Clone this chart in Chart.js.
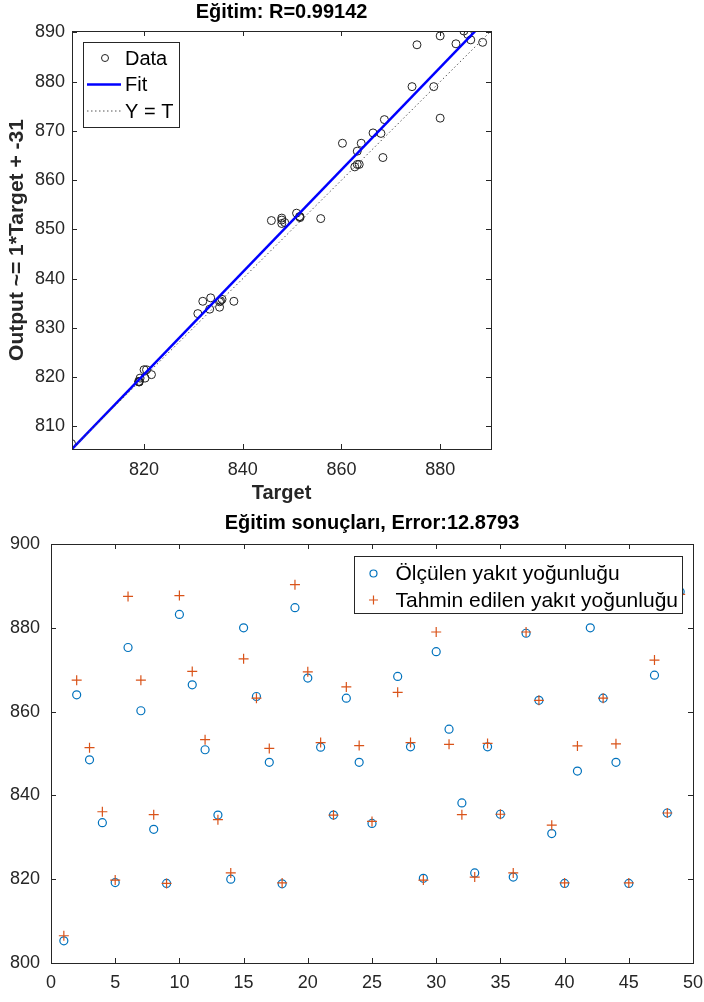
<!DOCTYPE html>
<html>
<head>
<meta charset="utf-8">
<title>Eğitim</title>
<script src="https://cdn.jsdelivr.net/npm/chart.js@4.4.0/dist/chart.umd.min.js"></script>
<style>
    html, body { margin: 0; padding: 0; background: #fff; }
    #page { position: relative; width: 704px; height: 1002px; overflow: hidden; }
    canvas { position: absolute; left: 0; }
    #regChart { top: 0; }
    #resChart { top: 510px; }
</style>
</head>
<body>
<div id="page">
    <canvas id="regChart" width="704" height="510"></canvas>
    <canvas id="resChart" width="704" height="492"></canvas>
</div>
<script>
// sample numbers on the lower plot
const sampleNo = [1, 2, 3, 4, 5, 6, 7, 8, 9, 10, 11, 12, 13, 14, 15, 16, 17, 18, 19, 20,
    21, 22, 23, 24, 25, 26, 27, 28, 29, 30, 31, 32, 33, 34, 35, 36, 37, 38, 39, 40,
    41, 42, 43, 44, 45, 46, 47, 48, 49];

// measured fuel density (target)
const measured = [805.3, 864.0, 848.5, 833.5, 819.2, 875.3, 860.2, 831.9, 819.0, 883.2,
    866.4, 850.9, 835.3, 820.0, 880.0, 863.6, 847.9, 818.9, 884.8, 868.0,
    851.5, 835.3, 863.2, 847.9, 833.3, 885.6, 868.4, 851.6, 820.2, 874.3,
    855.8, 838.2, 821.5, 851.6, 835.5, 820.5, 878.7, 862.7, 830.9, 819.0,
    845.8, 880.0, 863.2, 847.9, 819.0, 886.2, 868.7, 835.8, 888.6];

// predicted fuel density (output)
const predicted = [806.5, 867.5, 851.4, 836.1, 819.8, 887.5, 867.5, 835.4, 819.0, 887.7,
    869.6, 853.3, 834.2, 821.5, 872.6, 863.2, 851.2, 819.1, 890.3, 869.5,
    852.6, 835.3, 865.9, 851.9, 833.8, 889.6, 864.6, 852.6, 819.8, 879.0,
    852.2, 835.4, 820.5, 852.4, 835.5, 821.5, 879.0, 862.7, 832.9, 819.1,
    851.8, 889.3, 863.2, 852.3, 819.1, 888.5, 872.3, 835.8, 888.0];

// regression plot: fit line and Y = T line end points
const fitTarget = [805.4, 890.3];
const fitOutput = [805.4, 893.6];
const regLimits = [805.4, 890.3];

// tick values
const regTicksX = [820, 840, 860, 880];
const regTicksY = [810, 820, 830, 840, 850, 860, 870, 880, 890];
const resTicksX = [0, 5, 10, 15, 20, 25, 30, 35, 40, 45, 50];
const resTicksY = [800, 820, 840, 860, 880, 900];

const FONT = "'Liberation Sans', Arial, Helvetica, sans-serif";
const AXIS_COLOR = '#262626';
Chart.defaults.font.family = FONT;
Chart.defaults.color = AXIS_COLOR;

// box round the plot area with small inward ticks on every side
const axesFrame = {
    id: 'axesFrame',
    afterDatasetsDraw(chart) {
        const { ctx, chartArea: a, scales } = chart;
        const len = 5;
        ctx.save();
        ctx.strokeStyle = AXIS_COLOR;
        ctx.lineWidth = 1;
        ctx.beginPath();
        scales.x.ticks.forEach(t => {
            const px = Math.round(scales.x.getPixelForValue(t.value)) + 0.5;
            ctx.moveTo(px, a.bottom);
            ctx.lineTo(px, a.bottom - len);
            ctx.moveTo(px, a.top);
            ctx.lineTo(px, a.top + len);
        });
        scales.y.ticks.forEach(t => {
            const py = Math.round(scales.y.getPixelForValue(t.value)) + 0.5;
            ctx.moveTo(a.left, py);
            ctx.lineTo(a.left + len, py);
            ctx.moveTo(a.right, py);
            ctx.lineTo(a.right - len, py);
        });
        ctx.stroke();
        ctx.strokeRect(Math.round(a.left) + 0.5, Math.round(a.top) + 0.5,
            Math.round(a.right - a.left), Math.round(a.bottom - a.top));
        ctx.restore();
    }
};

// title centred over the axes, like MATLAB does it
const axesTitle = {
    id: 'axesTitle',
    afterDraw(chart, args, opts) {
        if (!opts.text) return;
        const { ctx, chartArea: a } = chart;
        ctx.save();
        ctx.font = 'bold 20px ' + FONT;
        ctx.fillStyle = '#000';
        ctx.textAlign = 'center';
        ctx.textBaseline = 'middle';
        ctx.fillText(opts.text, (a.left + a.right) / 2, opts.y);
        ctx.restore();
    }
};

// legend drawn inside the plot area, with white background and border
const boxLegend = {
    id: 'boxLegend',
    afterDraw(chart, args, opts) {
        if (!opts.items) return;
        const { ctx, chartArea: a } = chart;
        ctx.save();
        ctx.font = opts.font;
        const textW = Math.max(...opts.items.map(it => ctx.measureText(it.text).width));
        const w = opts.textX + textW + opts.padRight;
        const left = opts.align === 'right' ? a.right - opts.dx - w : a.left + opts.dx;
        const top = a.top + opts.dy;
        ctx.fillStyle = '#fff';
        ctx.fillRect(left, top, w, opts.height);
        ctx.strokeStyle = AXIS_COLOR;
        ctx.lineWidth = 1;
        ctx.strokeRect(Math.round(left) + 0.5, Math.round(top) + 0.5, Math.round(w), Math.round(opts.height));

        opts.items.forEach((it, i) => {
            const cy = top + opts.firstRow + i * opts.rowGap;
            const mx = left + opts.markerX;
            ctx.strokeStyle = it.color;
            ctx.lineWidth = it.width;
            ctx.setLineDash(it.dash || []);
            ctx.beginPath();
            if (it.type === 'circle') {
                ctx.arc(mx, cy, it.radius, 0, Math.PI * 2);
            } else if (it.type === 'cross') {
                ctx.moveTo(mx - it.radius, cy);
                ctx.lineTo(mx + it.radius, cy);
                ctx.moveTo(mx, cy - it.radius);
                ctx.lineTo(mx, cy + it.radius);
            } else {
                ctx.moveTo(left + opts.lineFrom, cy);
                ctx.lineTo(left + opts.lineTo, cy);
            }
            ctx.stroke();
            ctx.setLineDash([]);
            ctx.fillStyle = '#000';
            ctx.textAlign = 'left';
            ctx.textBaseline = 'middle';
            ctx.fillText(it.text, left + opts.textX, cy + 1);
        });
        ctx.restore();
    }
};

function fixedTicks(values) {
    return scale => { scale.ticks = values.map(v => ({ value: v })); };
}

// fixed axis height, and no extra room for the end labels
function fixedHeight(h) {
    return scale => {
        scale.height = h;
        scale.paddingLeft = 0;
        scale.paddingRight = 0;
    };
}

// ---------- regression plot ----------
const regPoints = measured.map((t, i) => ({ x: t, y: predicted[i] }));

new Chart(document.getElementById('regChart'), {
    type: 'scatter',
    data: {
        datasets: [
            {
                label: 'Data',
                data: regPoints,
                pointStyle: 'circle',
                pointRadius: 4,
                pointBorderWidth: 1,
                borderColor: '#222',
                backgroundColor: 'rgba(0,0,0,0)',
                order: 2
            },
            {
                label: 'Fit',
                type: 'line',
                data: fitTarget.map((t, i) => ({ x: t, y: fitOutput[i] })),
                borderColor: '#0000ff',
                borderWidth: 2.5,
                pointRadius: 0,
                order: 1
            },
            {
                label: 'Y = T',
                type: 'line',
                data: regLimits.map(v => ({ x: v, y: v })),
                borderColor: '#555',
                borderWidth: 1,
                borderDash: [1.5, 2.5],
                pointRadius: 0,
                order: 0
            }
        ]
    },
    options: {
        responsive: false,
        animation: false,
        events: [],
        layout: { padding: { left: 0, right: 213, top: 31, bottom: 0 } },
        scales: {
            x: {
                type: 'linear',
                min: regLimits[0],
                max: regLimits[1],
                afterBuildTicks: fixedTicks(regTicksX),
                afterFit: fixedHeight(61),
                grid: { display: false, drawTicks: false },
                border: { display: false },
                ticks: { font: { size: 18 }, color: AXIS_COLOR, padding: 10, maxRotation: 0 },
                title: {
                    display: true,
                    text: 'Target',
                    font: { size: 20, weight: 'bold' },
                    color: AXIS_COLOR,
                    padding: { top: 0, bottom: 5 }
                }
            },
            y: {
                type: 'linear',
                min: regLimits[0],
                max: regLimits[1],
                afterBuildTicks: fixedTicks(regTicksY),
                afterFit: s => { s.width = 72; },
                grid: { display: false, drawTicks: false },
                border: { display: false },
                ticks: { font: { size: 18 }, color: AXIS_COLOR, padding: 7 },
                title: {
                    display: true,
                    text: 'Output ~= 1*Target + -31',
                    font: { size: 21, weight: 'bold' },
                    color: AXIS_COLOR,
                    padding: { top: 5, bottom: 0 }
                }
            }
        },
        plugins: {
            legend: { display: false },
            tooltip: { enabled: false },
            title: { display: false },
            axesTitle: { text: 'Eğitim: R=0.99142', y: 12 },
            boxLegend: {
                font: '20px ' + FONT,
                align: 'left',
                dx: 11,
                dy: 11,
                height: 85,
                firstRow: 16,
                rowGap: 26.5,
                markerX: 22,
                lineFrom: 4,
                lineTo: 38,
                textX: 42,
                padRight: 6,
                items: [
                    { text: 'Data', type: 'circle', color: '#222', radius: 3.5, width: 1 },
                    { text: 'Fit', type: 'line', color: '#0000ff', width: 2.5 },
                    { text: 'Y = T', type: 'line', color: '#555', width: 1, dash: [1.5, 2.5] }
                ]
            }
        }
    },
    plugins: [axesFrame, axesTitle, boxLegend]
});

// ---------- results plot ----------
new Chart(document.getElementById('resChart'), {
    type: 'scatter',
    data: {
        datasets: [
            {
                label: 'Ölçülen yakıt yoğunluğu',
                data: sampleNo.map((n, i) => ({ x: n, y: measured[i] })),
                pointStyle: 'circle',
                pointRadius: 4,
                pointBorderWidth: 1.2,
                borderColor: '#0072BD',
                backgroundColor: 'rgba(0,0,0,0)',
                order: 1
            },
            {
                label: 'Tahmin edilen yakıt yoğunluğu',
                data: sampleNo.map((n, i) => ({ x: n, y: predicted[i] })),
                pointStyle: 'cross',
                pointRadius: 5,
                pointBorderWidth: 1.2,
                borderColor: '#D95319',
                backgroundColor: '#D95319',
                order: 0
            }
        ]
    },
    options: {
        responsive: false,
        animation: false,
        events: [],
        layout: { padding: { left: 0, right: 11, top: 34, bottom: 0 } },
        scales: {
            x: {
                type: 'linear',
                min: 0,
                max: 50,
                afterBuildTicks: fixedTicks(resTicksX),
                afterFit: fixedHeight(39),
                grid: { display: false, drawTicks: false },
                border: { display: false },
                ticks: { font: { size: 18 }, color: AXIS_COLOR, padding: 9, maxRotation: 0 }
            },
            y: {
                type: 'linear',
                min: 800,
                max: 900,
                afterBuildTicks: fixedTicks(resTicksY),
                afterFit: s => { s.width = 51; },
                grid: { display: false, drawTicks: false },
                border: { display: false },
                ticks: { font: { size: 18 }, color: AXIS_COLOR, padding: 11 }
            }
        },
        plugins: {
            legend: { display: false },
            tooltip: { enabled: false },
            title: { display: false },
            axesTitle: { text: 'Eğitim sonuçları, Error:12.8793', y: 13 },
            boxLegend: {
                font: '21px ' + FONT,
                align: 'right',
                dx: 11,
                dy: 12,
                height: 57,
                firstRow: 17.5,
                rowGap: 26.5,
                markerX: 19,
                textX: 41,
                padRight: 4,
                items: [
                    { text: 'Ölçülen yakıt yoğunluğu', type: 'circle', color: '#0072BD', radius: 3.5, width: 1.2 },
                    { text: 'Tahmin edilen yakıt yoğunluğu', type: 'cross', color: '#D95319', radius: 4.5, width: 1.2 }
                ]
            }
        }
    },
    plugins: [axesFrame, axesTitle, boxLegend]
});
</script>
</body>
</html>
